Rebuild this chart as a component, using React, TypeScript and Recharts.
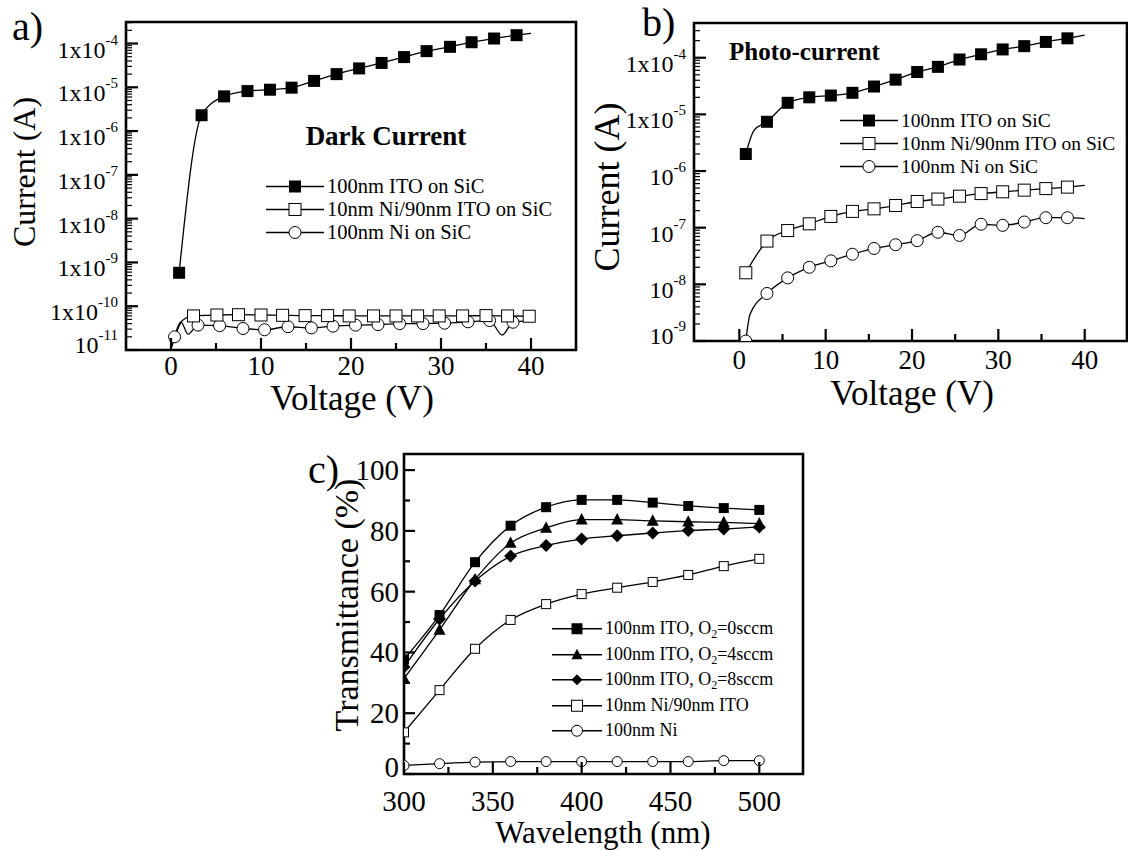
import React from 'react';
import { ComposedChart, Line, Scatter, XAxis, YAxis, ReferenceArea, Legend } from 'recharts';

const FONT = '"Liberation Serif", "Times New Roman", serif';
const serif = { fontFamily: FONT };

// ---------- a) dark current (V, A) ----------
const aNames = ['100nm ITO on SiC', '10nm Ni/90nm ITO on SiC', '100nm Ni on SiC'];
const aItoV = [0.9, 3.4, 5.9, 8.5, 11.0, 13.4, 15.9, 18.4, 20.9, 23.4, 25.9, 28.4, 31.0, 33.4, 35.9, 38.4];
const aItoI = [5.8e-10, 2.3e-6, 6.2e-6, 8.2e-6, 8.8e-6, 9.8e-6, 1.4e-5, 2.0e-5, 2.7e-5, 3.6e-5, 4.9e-5, 6.7e-5, 8.4e-5, 1.07e-4, 1.3e-4, 1.55e-4];
const aItoTraceV = [40];
const aItoTraceI = [1.7e-4];
const aNiItoV = [2.5, 5.1, 7.5, 10.0, 12.4, 14.9, 17.4, 19.8, 22.5, 25.0, 27.4, 29.8, 32.4, 35.0, 37.4, 39.8];
const aNiItoI = [6.0e-11, 6.3e-11, 6.4e-11, 6.3e-11, 6.2e-11, 6.1e-11, 6.1e-11, 6.0e-11, 6.0e-11, 6.0e-11, 6.0e-11, 6.0e-11, 6.0e-11, 6.1e-11, 6.0e-11, 5.9e-11];
const aNiItoTraceV = [0.1, 1.3];
const aNiItoTraceI = [1.2e-11, 4.8e-11];
const aNiV = [0.4, 3.0, 5.4, 8.0, 10.4, 13.0, 15.6, 18.0, 20.5, 23.0, 25.4, 28.0, 30.4, 33.0, 35.4, 38.0];
const aNiI = [2.0e-11, 3.7e-11, 3.6e-11, 3.1e-11, 2.9e-11, 3.4e-11, 3.2e-11, 3.5e-11, 3.7e-11, 3.8e-11, 4.0e-11, 4.0e-11, 4.1e-11, 4.4e-11, 4.7e-11, 4.3e-11];
const aNiTraceV = [1.1, 1.9, 36.8, 40];
const aNiTraceI = [4.4e-11, 2.3e-11, 2.2e-11, 4.7e-11];
const aExps = [-11, -10, -9, -8, -7, -6, -5, -4];

// ---------- b) photo-current ----------
const bNames = ['100nm ITO on SiC', '10nm Ni/90nm ITO on SiC', '100nm Ni on SiC'];
const bV = [0.75, 3.2, 5.6, 8.1, 10.6, 13.1, 15.6, 18.1, 20.6, 23.0, 25.5, 28.0, 30.5, 33.0, 35.5, 38.0];
const bItoI = [2.0e-6, 7.4e-6, 1.6e-5, 2.0e-5, 2.15e-5, 2.4e-5, 3.1e-5, 4.1e-5, 5.6e-5, 6.9e-5, 9.3e-5, 1.15e-4, 1.4e-4, 1.6e-4, 1.9e-4, 2.2e-4];
const bNiItoI = [1.6e-8, 5.8e-8, 8.9e-8, 1.17e-7, 1.58e-7, 1.94e-7, 2.15e-7, 2.46e-7, 2.9e-7, 3.2e-7, 3.6e-7, 4.0e-7, 4.3e-7, 4.6e-7, 4.9e-7, 5.2e-7];
const bNiI = [1.0e-9, 6.9e-9, 1.3e-8, 2.0e-8, 2.6e-8, 3.4e-8, 4.3e-8, 5.0e-8, 5.9e-8, 8.3e-8, 7.3e-8, 1.15e-7, 1.1e-7, 1.26e-7, 1.5e-7, 1.5e-7];
const bItoTraceV = [1.7, 40];
const bItoTraceI = [5.2e-6, 2.5e-4];
const bNiItoTraceV = [40];
const bNiItoTraceI = [5.6e-7];
const bNiTraceV = [1.25, 40];
const bNiTraceI = [3.0e-9, 1.44e-7];
const bExps = [-9, -8, -7, -6, -5, -4];

// ---------- c) transmittance ----------
const cNames = ['100nm ITO, O2=0sccm', '100nm ITO, O2=4sccm', '100nm ITO, O2=8sccm', '10nm Ni/90nm ITO', '100nm Ni'];
const cWave = [300, 320, 340, 360, 380, 400, 420, 440, 460, 480, 500];
const cO0 = [37.7, 52.3, 69.7, 81.7, 87.8, 90.2, 90.2, 89.3, 88.2, 87.5, 86.9];
const cO4 = [31.4, 47.4, 64.0, 76.0, 81.0, 83.7, 83.7, 83.3, 83.0, 82.8, 82.4];
const cO8 = [35.2, 51.0, 63.5, 71.7, 75.2, 77.3, 78.4, 79.3, 80.1, 80.6, 81.3];
const cNiIto = [13.7, 27.6, 41.2, 50.7, 55.9, 59.2, 61.3, 63.2, 65.5, 68.4, 70.8];
const cNi = [2.8, 3.4, 3.9, 4.1, 4.1, 4.1, 4.1, 4.1, 4.1, 4.4, 4.4];

const voltTicks = [0, 10, 20, 30, 40];
const voltMinor = [5, 15, 25, 35];
const waveTicks = [300, 350, 400, 450, 500];
const waveMinor = [325, 375, 425, 475];
const transTicks = [0, 20, 40, 60, 80, 100];
const transMinor = [10, 30, 50, 70, 90];

const pts = (xs: number[], ys: number[]) => xs.map((x, i) => ({ x, y: ys[i] }));
const trace = (xs: number[], ys: number[], tx: number[], ty: number[]) =>
  [...pts(xs, ys), ...pts(tx, ty)].sort((p, q) => p.x - q.x);
const logTicks = (exps: number[]) => {
  const out: number[] = [];
  exps.forEach((e, k) => {
    for (let m = 1; m <= 9; m++) {
      if (k === exps.length - 1 && m > 3) break;
      out.push(m * Math.pow(10, e));
    }
  });
  return out;
};

type Kind = 'sqF' | 'sqO' | 'circ' | 'tri' | 'dia';

const Mark = ({ cx, cy, kind, s }: { cx: number; cy: number; kind: Kind; s: number }) => {
  const h = s / 2;
  if (kind === 'sqF') return <rect x={cx - h} y={cy - h} width={s} height={s} fill="#000" />;
  if (kind === 'sqO') return <rect x={cx - h} y={cy - h} width={s} height={s} fill="#fff" stroke="#000" strokeWidth={1} />;
  if (kind === 'circ') return <circle cx={cx} cy={cy} r={h} fill="#fff" stroke="#000" strokeWidth={1} />;
  if (kind === 'tri')
    return <polygon points={`${cx},${cy - h * 1.1} ${cx + h},${cy + h * 0.8} ${cx - h},${cy + h * 0.8}`} fill="#000" />;
  return <polygon points={`${cx},${cy - h} ${cx + h},${cy} ${cx},${cy + h} ${cx - h},${cy}`} fill="#000" />;
};

const shapeOf = (kind: Kind, s: number) => (p: any) => <Mark cx={p.cx} cy={p.cy} kind={kind} s={s} />;

const renderName = (name: string) => {
  const i = name.indexOf('O2');
  if (i < 0) return name;
  return (
    <>
      {name.slice(0, i)}O<span style={{ fontSize: 12, verticalAlign: '-0.35em', lineHeight: 0 }}>2</span>
      {name.slice(i + 2)}
    </>
  );
};

const LegendBox = ({ names, kinds, size, rowH, lineW, fontSize }: any) => (
  <div style={{ fontFamily: FONT, fontSize, color: '#000' }}>
    {names.map((n: string, i: number) => (
      <div key={n} style={{ display: 'flex', alignItems: 'center', height: rowH, whiteSpace: 'nowrap' }}>
        <svg width={lineW} height={rowH} style={{ overflow: 'visible' }}>
          <line x1={0} y1={rowH / 2} x2={lineW} y2={rowH / 2} stroke="#000" strokeWidth={1.3} />
          <Mark cx={lineW / 2} cy={rowH / 2} kind={kinds[i]} s={size} />
        </svg>
        <span style={{ marginLeft: 3, lineHeight: `${rowH}px` }}>{renderName(n)}</span>
      </div>
    ))}
  </div>
);

const isDecade = (v: number) => Math.abs(Math.log10(v) - Math.round(Math.log10(v))) < 1e-6;

const logYTick = (minExp: number, fullFrom: number) => (p: any) => {
  const v = p.payload.value;
  const major = isDecade(v);
  const e = Math.round(Math.log10(v));
  return (
    <g>
      <line x1={p.x} y1={p.y} x2={p.x + (major ? 12 : 6)} y2={p.y} stroke="#000" strokeWidth={major ? 2.2 : 1.2} />
      {major && (
        <text x={p.x - 8} y={p.y + (e === minExp ? 3 : 14)} textAnchor="end" style={serif} fontSize={24} fill="#000">
          {e >= fullFrom ? '1x10' : '10'}
          <tspan dy={-13} fontSize={15}>{String(e)}</tspan>
        </text>
      )}
    </g>
  );
};

// the bottom label (0) sits a little above its tick, as in the figure
const linYTick = (majors: number[]) => (p: any) => {
  const v = p.payload.value;
  const major = majors.includes(v);
  return (
    <g>
      <line x1={p.x} y1={p.y} x2={p.x + (major ? 11 : 6)} y2={p.y} stroke="#000" strokeWidth={2.2} />
      {major && (
        <text x={p.x - 5} y={p.y + (v === majors[0] ? 3 : 10)} textAnchor="end" style={serif} fontSize={29} fill="#000">
          {v}
        </text>
      )}
    </g>
  );
};

const xTick = (majors: number[], gap: number, fs: number) => (p: any) => {
  const v = p.payload.value;
  const major = majors.includes(v);
  return (
    <g>
      <line x1={p.x} y1={p.y} x2={p.x} y2={p.y - (major ? 12 : 7)} stroke="#000" strokeWidth={2.2} />
      {major && (
        <text x={p.x} y={p.y + gap} textAnchor="middle" style={serif} fontSize={fs} fill="#000">
          {v}
        </text>
      )}
    </g>
  );
};

const Frame = ({ x, y }: { x: number[]; y: number[] }) => (
  <ReferenceArea x1={x[0]} x2={x[1]} y1={y[0]} y2={y[1]} fill="none" stroke="#000" strokeWidth={2.6} strokeOpacity={1} ifOverflow="visible" />
);

const lineProps = { type: 'monotone' as const, dataKey: 'y', stroke: '#000', strokeWidth: 1.3, dot: false, isAnimationActive: false };

const PanelA = () => {
  const xd = [-5, 45];
  const yd = [1e-11, 3.1e-4];
  return (
    <ComposedChart width={600} height={420} margin={{ top: 22, right: 24, bottom: 20, left: 16 }}>
      <XAxis type="number" dataKey="x" domain={xd} allowDataOverflow ticks={[...voltTicks, ...voltMinor]} interval={0}
        tick={xTick(voltTicks, 25, 27)} tickLine={false} axisLine={false} tickSize={0} tickMargin={0} height={50} />
      <YAxis type="number" dataKey="y" scale="log" domain={yd} allowDataOverflow ticks={logTicks(aExps)} interval={0}
        tick={logYTick(-11, -10)} tickLine={false} axisLine={false} tickSize={0} tickMargin={0} width={110} />
      <Frame x={xd} y={yd} />
      <Line {...lineProps} data={trace(aItoV, aItoI, aItoTraceV, aItoTraceI)} />
      <Line {...lineProps} data={trace(aNiItoV, aNiItoI, aNiItoTraceV, aNiItoTraceI)} />
      <Line {...lineProps} data={trace(aNiV, aNiI, aNiTraceV, aNiTraceI)} />
      <Scatter data={pts(aNiV, aNiI)} shape={shapeOf('circ', 12)} isAnimationActive={false} />
      <Scatter data={pts(aNiItoV, aNiItoI)} shape={shapeOf('sqO', 12)} isAnimationActive={false} />
      <Scatter data={pts(aItoV, aItoI)} shape={shapeOf('sqF', 12)} isAnimationActive={false} />
      <Legend layout="vertical" align="center" verticalAlign="middle"
        wrapperStyle={{ left: 266, top: 175, width: 'auto', height: 'auto' }}
        content={() => <LegendBox names={aNames} kinds={['sqF', 'sqO', 'circ']} size={12} rowH={23} lineW={58} fontSize={20.5} />} />
    </ComposedChart>
  );
};

const PanelB = () => {
  const xd = [-5.25, 44.9];
  const yd = [1e-9, 4.1e-4];
  return (
    <ComposedChart width={528} height={420} margin={{ top: 23, right: 1, bottom: 29, left: 14 }}>
      <XAxis type="number" dataKey="x" domain={xd} allowDataOverflow ticks={[...voltTicks, ...voltMinor]} interval={0}
        tick={xTick(voltTicks, 28, 27)} tickLine={false} axisLine={false} tickSize={0} tickMargin={0} height={50} />
      <YAxis type="number" dataKey="y" scale="log" domain={yd} allowDataOverflow ticks={logTicks(bExps)} interval={0}
        tick={logYTick(-9, -5)} tickLine={false} axisLine={false} tickSize={0} tickMargin={0} width={80} />
      <Frame x={xd} y={yd} />
      <Line {...lineProps} data={trace(bV, bItoI, bItoTraceV, bItoTraceI)} />
      <Line {...lineProps} data={trace(bV, bNiItoI, bNiItoTraceV, bNiItoTraceI)} />
      <Line {...lineProps} data={trace(bV, bNiI, bNiTraceV, bNiTraceI)} />
      <Scatter data={pts(bV, bNiI)} shape={shapeOf('circ', 12)} isAnimationActive={false} />
      <Scatter data={pts(bV, bNiItoI)} shape={shapeOf('sqO', 12)} isAnimationActive={false} />
      <Scatter data={pts(bV, bItoI)} shape={shapeOf('sqF', 12)} isAnimationActive={false} />
      <Legend layout="vertical" align="center" verticalAlign="middle"
        wrapperStyle={{ left: 240, top: 109, width: 'auto', height: 'auto' }}
        content={() => <LegendBox names={bNames} kinds={['sqF', 'sqO', 'circ']} size={12} rowH={23} lineW={58} fontSize={19.5} />} />
    </ComposedChart>
  );
};

const PanelC = () => {
  const xd = [300, 524.6];
  const yd = [0, 105.3];
  return (
    <ComposedChart width={540} height={420} margin={{ top: 24, right: 37, bottom: 26, left: 14 }}>
      <XAxis type="number" dataKey="x" domain={xd} allowDataOverflow ticks={[...waveTicks, ...waveMinor]} interval={0}
        tick={xTick(waveTicks, 37, 29)} tickLine={false} axisLine={false} tickSize={0} tickMargin={0} height={50} />
      <YAxis type="number" dataKey="y" domain={yd} allowDataOverflow ticks={[...transTicks, ...transMinor]} interval={0}
        tick={linYTick(transTicks)} tickLine={false} axisLine={false} tickSize={0} tickMargin={0} width={90} />
      <Frame x={xd} y={yd} />
      <Line {...lineProps} data={pts(cWave, cO0)} />
      <Line {...lineProps} data={pts(cWave, cO4)} />
      <Line {...lineProps} data={pts(cWave, cO8)} />
      <Line {...lineProps} data={pts(cWave, cNiIto)} />
      <Line {...lineProps} data={pts(cWave, cNi)} />
      <Scatter data={pts(cWave, cNi)} shape={shapeOf('circ', 10)} isAnimationActive={false} />
      <Scatter data={pts(cWave, cNiIto)} shape={shapeOf('sqO', 9)} isAnimationActive={false} />
      <Scatter data={pts(cWave, cO8)} shape={shapeOf('dia', 13)} isAnimationActive={false} />
      <Scatter data={pts(cWave, cO4)} shape={shapeOf('tri', 12)} isAnimationActive={false} />
      <Scatter data={pts(cWave, cO0)} shape={shapeOf('sqF', 10)} isAnimationActive={false} />
      <Legend layout="vertical" align="center" verticalAlign="middle"
        wrapperStyle={{ left: 252, top: 186, width: 'auto', height: 'auto' }}
        content={() => <LegendBox names={cNames} kinds={['sqF', 'tri', 'dia', 'sqO', 'circ']} size={11} rowH={25.5} lineW={50} fontSize={18} />} />
    </ComposedChart>
  );
};

const T = (props: any) => <text style={serif} fill="#000" {...props} />;

export default function App() {
  return (
    <div style={{ position: 'absolute', left: 0, top: 0, width: 1128, height: 850, background: '#fff', overflow: 'hidden' }}>
      <div style={{ position: 'absolute', left: 0, top: 0 }}><PanelA /></div>
      <div style={{ position: 'absolute', left: 600, top: 0 }}><PanelB /></div>
      <div style={{ position: 'absolute', left: 300, top: 430 }}><PanelC /></div>
      <svg width={1128} height={850} style={{ position: 'absolute', left: 0, top: 0, pointerEvents: 'none' }}>
        <T x={12} y={40} fontSize={40}>a)</T>
        <T x={642} y={36} fontSize={40}>b)</T>
        <T x={308} y={483} fontSize={40}>c)</T>
        <T x={386} y={145} fontSize={27} fontWeight="bold" textAnchor="middle">Dark Current</T>
        <T x={729} y={60} fontSize={25} fontWeight="bold">Photo-current</T>
        <T x={352} y={410} fontSize={35} textAnchor="middle">Voltage (V)</T>
        <T x={912} y={405} fontSize={35} textAnchor="middle">Voltage (V)</T>
        <T x={35} y={172} fontSize={32} textAnchor="middle" transform="rotate(-90 35 172)">Current (A)</T>
        <T x={619} y={187} fontSize={36} textAnchor="middle" transform="rotate(-90 619 187)">Current (A)</T>
        <T x={358} y={605} fontSize={34} textAnchor="middle" transform="rotate(-90 358 605)">Transmittance (%)</T>
        <T x={603} y={843} fontSize={31} textAnchor="middle">Wavelength (nm)</T>
      </svg>
    </div>
  );
}
